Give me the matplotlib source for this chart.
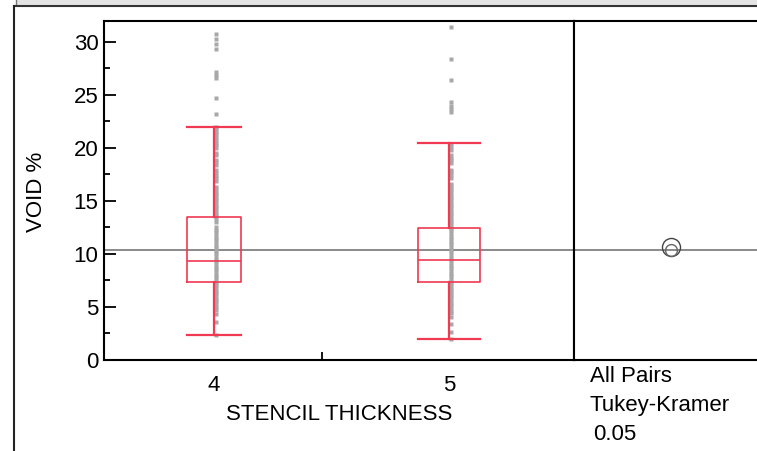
import matplotlib.pyplot as plt
from matplotlib.lines import Line2D
from matplotlib.patches import Rectangle

plt.rcParams['font.family'] = ['Liberation Sans', 'DejaVu Sans']

# data
groups = ['4', '5']
q1 = [7.36, 7.33]
med = [9.31, 9.47]
q3 = [13.53, 12.49]
whis_lo = [2.36, 2.02]
whis_hi = [21.98, 20.5]
grand_mean = 10.35

points_4 = [2.36, 3.55, 4.3, 4.75, 5.0, 5.3, 5.55, 5.8, 6.05, 6.3, 6.55, 6.8, 7.05,
            7.3, 7.55, 7.8, 8.05, 8.3, 8.55, 8.8, 9.05, 9.3, 9.55, 9.8, 10.05, 10.3,
            10.55, 10.8, 11.05, 11.3, 11.55, 11.8, 12.05, 12.3, 12.55, 13.05, 13.3,
            13.55, 13.8, 14.05, 14.3, 14.55, 14.8, 15.05, 15.3, 15.55, 15.8, 16.05,
            16.3, 16.9, 17.15, 17.4, 17.65, 17.9, 18.4, 18.65, 18.9, 19.3, 19.5,
            20.0, 20.25, 20.5, 20.75, 21.0, 21.3, 21.55, 21.8, 21.98,
            23.25, 24.68, 26.64, 26.9, 27.17, 29.3, 29.77, 30.3, 30.79]
points_5 = [2.02, 2.6, 3.4, 4.1, 4.4, 4.65, 4.9, 5.15, 5.4, 5.65, 5.9, 6.15, 6.4,
            6.65, 6.9, 7.15, 7.4, 7.65, 7.9, 8.15, 8.4, 8.65, 8.9, 9.15, 9.4, 9.65,
            9.9, 10.15, 10.4, 10.65, 10.9, 11.15, 11.4, 11.65, 11.9, 12.15, 12.4,
            12.65, 12.9, 13.15, 13.4, 13.65, 13.9, 14.15, 14.4, 14.65, 14.9, 15.15,
            15.4, 15.65, 15.9, 16.15, 16.4, 16.65, 17.2, 17.45, 17.7, 17.95, 18.6,
            18.85, 19.1, 19.35, 19.85, 20.1, 20.4,
            23.4, 23.7, 24.0, 24.3, 26.45, 28.4, 31.45]
circle_y = [10.63, 10.35]
panel_text = ['All Pairs', 'Tukey-Kramer', '0.05']

red = '#ef3a52'
W, H = 757, 451
fig = plt.figure(figsize=(W / 100, H / 100), dpi=100)

def fx(px):
    return px / W

def fy(py):
    return 1 - py / H

# window chrome
fig.add_artist(Rectangle((fx(16), fy(5)), 1, 5 / H, transform=fig.transFigure,
                         facecolor='#e4e4e4', edgecolor='none'))
fig.add_artist(Line2D([fx(16), fx(16)], [fy(0), fy(5)], transform=fig.transFigure,
                      color='#777777', lw=1))
fig.add_artist(Line2D([fx(14), 1], [fy(6), fy(6)], transform=fig.transFigure,
                      color='#333333', lw=1.5))
fig.add_artist(Line2D([fx(14), fx(14)], [fy(6), 0], transform=fig.transFigure,
                      color='#222222', lw=1.5))

ax = fig.add_axes([fx(104), fy(360), fx(574) - fx(104), fy(21) - fy(360)])
pos = [0.234, 0.734]
widths = [0.115, 0.130]
boundary = 0.4638

ax.axhline(grand_mean, color='#8a8a8a', lw=1.4, zorder=1)
for p, pts in zip(pos, [points_4, points_5]):
    ax.plot([p + 0.004] * len(pts), pts, ls='none', marker='s', ms=2.8,
            mfc='#a8a8a8', mec='none', zorder=2)

stats = []
for i in range(2):
    stats.append(dict(q1=q1[i], med=med[i], q3=q3[i], whislo=whis_lo[i],
                      whishi=whis_hi[i], fliers=[]))
ax.bxp(stats, positions=pos, widths=widths, showfliers=False, manage_ticks=False,
       boxprops=dict(color=red, lw=1.2), medianprops=dict(color=red, lw=1.2),
       whiskerprops=dict(color=red, lw=1.6), capprops=dict(color=red, lw=1.6),
       capwidths=widths, zorder=3)

ax.set_xlim(0, 1)
ax.set_ylim(0, 31.98)
ax.set_yticks(range(0, 31, 5))
ax.set_yticks([2.5, 7.5, 12.5, 17.5, 22.5, 27.5], minor=True)
ax.set_xticks(pos)
ax.set_xticklabels(groups)
ax.set_xticks([boundary], minor=True)
ax.tick_params(axis='y', which='major', direction='in', length=8.5, width=1.3,
               labelsize=16, pad=4)
ax.tick_params(axis='y', which='minor', direction='in', length=4.3, width=1.3)
ax.tick_params(axis='x', which='major', length=0, labelsize=16, pad=11)
ax.tick_params(axis='x', which='minor', direction='in', length=5.8, width=1.3)
for s in ax.spines.values():
    s.set_linewidth(1.5)

fig.text(fx(37), fy(192), 'VOID %', rotation=90, ha='center', va='center', fontsize=16)
fig.text(fx(339), fy(414), 'STENCIL THICKNESS', ha='center', va='center', fontsize=16)

# comparison circles panel
ax2 = fig.add_axes([fx(574), fy(360), 1 - fx(574) + 0.01, fy(21) - fy(360)])
ax2.set_xlim(0, 1)
ax2.set_ylim(0, 31.98)
ax2.axhline(grand_mean, color='#8a8a8a', lw=1.4, zorder=1)
ax2.plot([0.51], [circle_y[0]], marker='o', ms=13, mfc='none', mec='#444444',
         mew=1.0, zorder=3)
ax2.plot([0.51], [circle_y[1]], marker='o', ms=8.5, mfc='none', mec='#666666',
         mew=1.0, zorder=3)
ax2.set_xticks([])
ax2.set_yticks([])
ax2.spines['right'].set_visible(False)
ax2.spines['left'].set_linewidth(1.5)
for s in ['top', 'bottom']:
    ax2.spines[s].set_linewidth(1.5)

for txt, (x, y) in zip(panel_text, [(590, 376), (590, 406), (593, 435)]):
    fig.text(fx(x), fy(y), txt, ha='left', va='center', fontsize=16)

fig.savefig('out.png', dpi=100)
